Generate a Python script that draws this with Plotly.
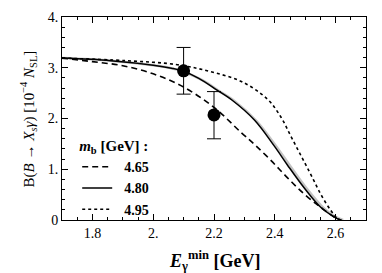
import plotly.graph_objects as go

# curves (m_b = 4.65, 4.80, 4.95 GeV, plus grey band)
x_465 = [1.70, 1.80, 1.90, 2.00, 2.10, 2.20, 2.29, 2.333, 2.388, 2.442, 2.497, 2.551, 2.595, 2.615]
y_465 = [3.19, 3.12, 3.04, 2.88, 2.62, 2.22, 1.72, 1.49, 1.17, 0.83, 0.51, 0.25, 0.06, 0.0]

x_480 = [1.70, 1.86, 2.00, 2.06, 2.10, 2.15, 2.21, 2.26, 2.333, 2.398, 2.442, 2.497, 2.551, 2.595, 2.615]
y_480 = [3.19, 3.14, 3.05, 2.99, 2.93, 2.79, 2.56, 2.36, 1.97, 1.46, 1.08, 0.63, 0.25, 0.06, 0.0]

x_495 = [1.70, 1.91, 2.08, 2.19, 2.29, 2.376, 2.42, 2.453, 2.486, 2.519, 2.551, 2.584, 2.606, 2.62]
y_495 = [3.19, 3.14, 3.06, 2.92, 2.73, 2.38, 2.03, 1.65, 1.27, 0.89, 0.51, 0.19, 0.03, 0.0]

x_grey = [1.70, 1.86, 2.00, 2.06, 2.10, 2.16, 2.22, 2.27, 2.34, 2.405, 2.45, 2.505, 2.56, 2.60, 2.625]
y_grey = [3.19, 3.14, 3.05, 2.99, 2.92, 2.76, 2.53, 2.33, 1.95, 1.45, 1.07, 0.62, 0.24, 0.06, 0.0]

# data points
x_pts = [2.1, 2.2]
y_pts = [2.94, 2.07]
err_up = [0.46, 0.46]
err_dn = [0.46, 0.47]

x_tickvals = [1.8, 2.0, 2.2, 2.4, 2.6]
x_ticktext = ["1.8", "2.", "2.2", "2.4", "2.6"]
y_tickvals = [0, 1, 2, 3, 4]
y_ticktext = ["0", "1.", "2.", "3.", "4."]

FONT = "Liberation Serif"
NB = "\u00a0"

fig = go.Figure()
fig.add_trace(go.Scatter(x=x_grey, y=y_grey, mode="lines", line=dict(color="#c4c4c4", width=2.5, shape="spline"),
                         showlegend=False, hoverinfo="skip"))
fig.add_trace(go.Scatter(x=x_465, y=y_465, mode="lines", name=NB * 2 + "<b>4.65</b>",
                         line=dict(color="black", width=1.6, dash="6px,4px", shape="spline")))
fig.add_trace(go.Scatter(x=x_480, y=y_480, mode="lines", name=NB * 2 + "<b>4.80</b>",
                         line=dict(color="black", width=1.5, shape="spline")))
fig.add_trace(go.Scatter(x=x_495, y=y_495, mode="lines", name=NB * 2 + "<b>4.95</b>",
                         line=dict(color="black", width=1.6, dash="3px,3px", shape="spline")))
fig.add_trace(go.Scatter(x=x_pts, y=y_pts, mode="markers", showlegend=False,
                         marker=dict(color="black", size=13),
                         error_y=dict(type="data", symmetric=False, array=err_up, arrayminus=err_dn,
                                      color="black", thickness=1, width=7)))

axis_common = dict(showline=True, linecolor="black", linewidth=1, mirror="ticks", ticks="inside",
                   ticklen=6, tickwidth=1, tickcolor="black", showgrid=False, zeroline=False,
                   tickfont=dict(family=FONT, size=14, color="black"))

fig.update_xaxes(range=[1.7, 2.7], tickvals=x_tickvals, ticktext=x_ticktext,
                 minor=dict(ticks="inside", dtick=0.05, ticklen=3, tickcolor="black", showgrid=False),
                 **axis_common)
fig.update_yaxes(range=[0, 4], tickvals=y_tickvals, ticktext=y_ticktext,
                 minor=dict(ticks="inside", dtick=0.2, ticklen=3, tickcolor="black", showgrid=False),
                 **axis_common)

fig.add_annotation(xref="paper", yref="paper", x=-0.112, y=0.5, textangle=-90, showarrow=False,
                   xanchor="center", yanchor="middle",
                   text="B(<i>B</i> → <i>X<sub>s</sub>γ</i>) [10<sup>−4</sup> <i>N</i><sub>SL</sub>]",
                   font=dict(family=FONT, size=15, color="black"))
fig.add_annotation(xref="paper", yref="paper", x=0.50, y=-0.13, showarrow=False, yanchor="top",
                   text="<b><i>E</i><sub>γ</sub><sup>min</sup> [GeV]</b>",
                   font=dict(family=FONT, size=18, color="black"))

fig.update_layout(
    width=382, height=273,
    margin=dict(l=62, r=16, t=10, b=53),
    paper_bgcolor="white", plot_bgcolor="white",
    font=dict(family=FONT, color="black"),
    legend=dict(x=0.05, y=0.435, xanchor="left", yanchor="top", bgcolor="rgba(0,0,0,0)",
                title=dict(text="<b><i>m</i><sub>b</sub> [GeV] :</b>", font=dict(family=FONT, size=15)),
                font=dict(family=FONT, size=14), tracegroupgap=0, itemwidth=30),
)

fig.write_html("out.html", config={"displayModeBar": False},
               post_script="document.body.style.margin='0';")
